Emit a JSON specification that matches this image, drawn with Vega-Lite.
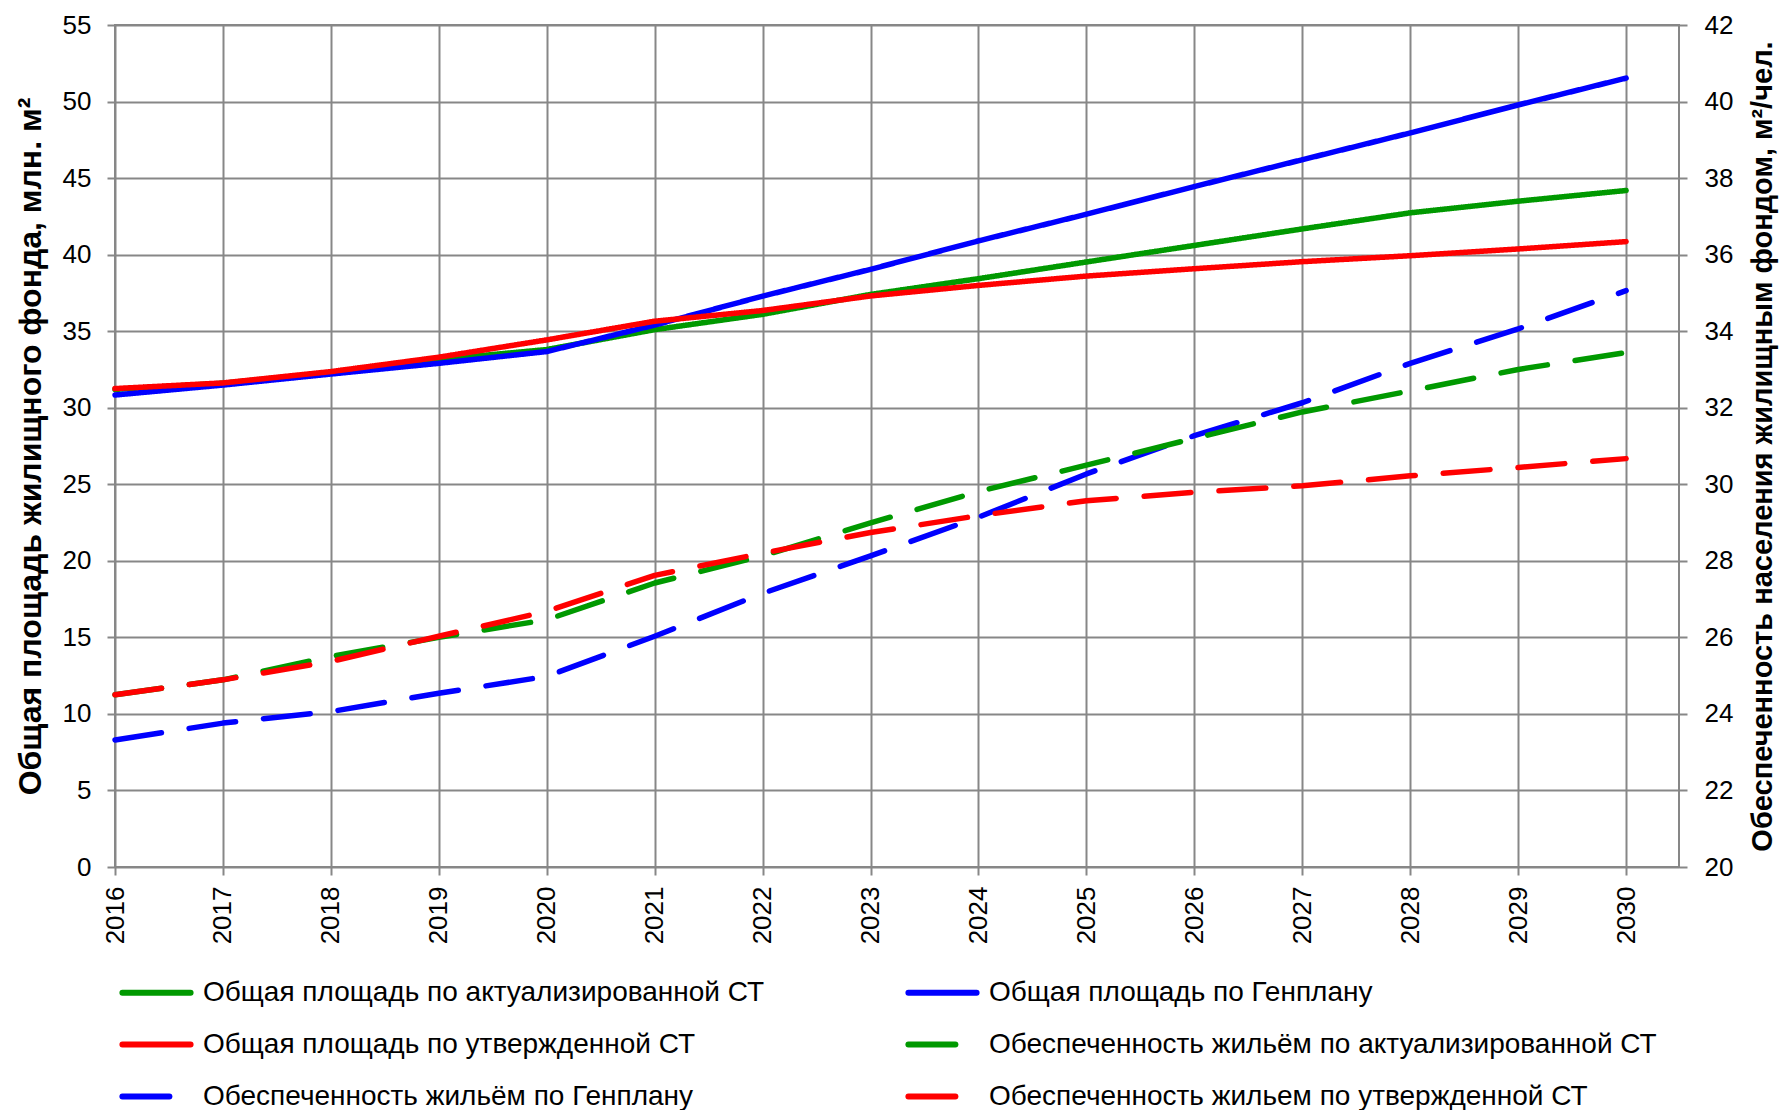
{
  "$schema": "https://vega.github.io/schema/vega-lite/v6.json",
  "width": 1564,
  "height": 842,
  "autosize": {"type": "none"},
  "padding": {"left": 115, "top": 25, "right": 105, "bottom": 243},
  "background": "white",
  "config": {
    "font": "Liberation Sans",
    "view": {"stroke": "#878787", "strokeWidth": 2},
    "axis": {
      "gridColor": "#878787", "gridWidth": 2, "gridOpacity": 1,
      "tickColor": "#878787", "tickWidth": 2, "tickSize": 8,
      "domain": false,
      "labelFont": "Liberation Sans", "labelFontSize": 26, "labelColor": "#000000",
      "titleFont": "Liberation Sans", "titleFontSize": 32, "titleFontWeight": "bold", "titleColor": "#000000"
    },
    "legend": {
      "orient": "none", "legendX": 4, "legendY": 930, "columns": 2, "padding": 0,
      "symbolType": "stroke", "symbolSize": 4650, "symbolStrokeWidth": 6,
      "labelFont": "Liberation Sans", "labelFontSize": 28, "labelColor": "#000000",
      "rowPadding": 0, "columnPadding": 131, "labelOffset": 9, "labelLimit": 1000
    }
  },
  "data": {"values": [
    {"year": 2016, "series": "Общая площадь по актуализированной СТ", "kind": "area", "value": 31.2},
    {"year": 2017, "series": "Общая площадь по актуализированной СТ", "kind": "area", "value": 31.6},
    {"year": 2018, "series": "Общая площадь по актуализированной СТ", "kind": "area", "value": 32.3},
    {"year": 2019, "series": "Общая площадь по актуализированной СТ", "kind": "area", "value": 33.15},
    {"year": 2020, "series": "Общая площадь по актуализированной СТ", "kind": "area", "value": 33.8},
    {"year": 2021, "series": "Общая площадь по актуализированной СТ", "kind": "area", "value": 35.1},
    {"year": 2022, "series": "Общая площадь по актуализированной СТ", "kind": "area", "value": 36.1},
    {"year": 2023, "series": "Общая площадь по актуализированной СТ", "kind": "area", "value": 37.4},
    {"year": 2024, "series": "Общая площадь по актуализированной СТ", "kind": "area", "value": 38.43},
    {"year": 2025, "series": "Общая площадь по актуализированной СТ", "kind": "area", "value": 39.52},
    {"year": 2026, "series": "Общая площадь по актуализированной СТ", "kind": "area", "value": 40.6},
    {"year": 2027, "series": "Общая площадь по актуализированной СТ", "kind": "area", "value": 41.68},
    {"year": 2028, "series": "Общая площадь по актуализированной СТ", "kind": "area", "value": 42.73},
    {"year": 2029, "series": "Общая площадь по актуализированной СТ", "kind": "area", "value": 43.49},
    {"year": 2030, "series": "Общая площадь по актуализированной СТ", "kind": "area", "value": 44.19},
    {"year": 2016, "series": "Общая площадь по Генплану", "kind": "area", "value": 30.83},
    {"year": 2017, "series": "Общая площадь по Генплану", "kind": "area", "value": 31.48},
    {"year": 2018, "series": "Общая площадь по Генплану", "kind": "area", "value": 32.2},
    {"year": 2019, "series": "Общая площадь по Генплану", "kind": "area", "value": 32.9},
    {"year": 2020, "series": "Общая площадь по Генплану", "kind": "area", "value": 33.67},
    {"year": 2021, "series": "Общая площадь по Генплану", "kind": "area", "value": 35.4},
    {"year": 2022, "series": "Общая площадь по Генплану", "kind": "area", "value": 37.29},
    {"year": 2023, "series": "Общая площадь по Генплану", "kind": "area", "value": 39.04},
    {"year": 2024, "series": "Общая площадь по Генплану", "kind": "area", "value": 40.9},
    {"year": 2025, "series": "Общая площадь по Генплану", "kind": "area", "value": 42.64},
    {"year": 2026, "series": "Общая площадь по Генплану", "kind": "area", "value": 44.45},
    {"year": 2027, "series": "Общая площадь по Генплану", "kind": "area", "value": 46.2},
    {"year": 2028, "series": "Общая площадь по Генплану", "kind": "area", "value": 47.95},
    {"year": 2029, "series": "Общая площадь по Генплану", "kind": "area", "value": 49.78},
    {"year": 2030, "series": "Общая площадь по Генплану", "kind": "area", "value": 51.53},
    {"year": 2016, "series": "Общая площадь по утвержденной СТ", "kind": "area", "value": 31.25},
    {"year": 2017, "series": "Общая площадь по утвержденной СТ", "kind": "area", "value": 31.62},
    {"year": 2018, "series": "Общая площадь по утвержденной СТ", "kind": "area", "value": 32.36},
    {"year": 2019, "series": "Общая площадь по утвержденной СТ", "kind": "area", "value": 33.3},
    {"year": 2020, "series": "Общая площадь по утвержденной СТ", "kind": "area", "value": 34.43},
    {"year": 2021, "series": "Общая площадь по утвержденной СТ", "kind": "area", "value": 35.65},
    {"year": 2022, "series": "Общая площадь по утвержденной СТ", "kind": "area", "value": 36.35},
    {"year": 2023, "series": "Общая площадь по утвержденной СТ", "kind": "area", "value": 37.3},
    {"year": 2024, "series": "Общая площадь по утвержденной СТ", "kind": "area", "value": 37.99},
    {"year": 2025, "series": "Общая площадь по утвержденной СТ", "kind": "area", "value": 38.6},
    {"year": 2026, "series": "Общая площадь по утвержденной СТ", "kind": "area", "value": 39.08},
    {"year": 2027, "series": "Общая площадь по утвержденной СТ", "kind": "area", "value": 39.54},
    {"year": 2028, "series": "Общая площадь по утвержденной СТ", "kind": "area", "value": 39.93},
    {"year": 2029, "series": "Общая площадь по утвержденной СТ", "kind": "area", "value": 40.37},
    {"year": 2030, "series": "Общая площадь по утвержденной СТ", "kind": "area", "value": 40.85},
    {"year": 2016, "series": "Обеспеченность жильём по Генплану", "kind": "supply", "value": 23.32},
    {"year": 2017, "series": "Обеспеченность жильём по Генплану", "kind": "supply", "value": 23.76},
    {"year": 2018, "series": "Обеспеченность жильём по Генплану", "kind": "supply", "value": 24.06},
    {"year": 2019, "series": "Обеспеченность жильём по Генплану", "kind": "supply", "value": 24.54},
    {"year": 2020, "series": "Обеспеченность жильём по Генплану", "kind": "supply", "value": 24.98},
    {"year": 2021, "series": "Обеспеченность жильём по Генплану", "kind": "supply", "value": 26.03},
    {"year": 2022, "series": "Обеспеченность жильём по Генплану", "kind": "supply", "value": 27.15},
    {"year": 2023, "series": "Обеспеченность жильём по Генплану", "kind": "supply", "value": 28.13},
    {"year": 2024, "series": "Обеспеченность жильём по Генплану", "kind": "supply", "value": 29.14},
    {"year": 2025, "series": "Обеспеченность жильём по Генплану", "kind": "supply", "value": 30.27},
    {"year": 2026, "series": "Обеспеченность жильём по Генплану", "kind": "supply", "value": 31.27},
    {"year": 2027, "series": "Обеспеченность жильём по Генплану", "kind": "supply", "value": 32.13},
    {"year": 2028, "series": "Обеспеченность жильём по Генплану", "kind": "supply", "value": 33.16},
    {"year": 2029, "series": "Обеспеченность жильём по Генплану", "kind": "supply", "value": 34.06},
    {"year": 2030, "series": "Обеспеченность жильём по Генплану", "kind": "supply", "value": 35.06},
    {"year": 2016, "series": "Обеспеченность жильём по актуализированной СТ", "kind": "supply", "value": 24.5},
    {"year": 2017, "series": "Обеспеченность жильём по актуализированной СТ", "kind": "supply", "value": 24.89},
    {"year": 2018, "series": "Обеспеченность жильём по актуализированной СТ", "kind": "supply", "value": 25.5},
    {"year": 2019, "series": "Обеспеченность жильём по актуализированной СТ", "kind": "supply", "value": 26.0},
    {"year": 2020, "series": "Обеспеченность жильём по актуализированной СТ", "kind": "supply", "value": 26.46},
    {"year": 2021, "series": "Обеспеченность жильём по актуализированной СТ", "kind": "supply", "value": 27.42},
    {"year": 2022, "series": "Обеспеченность жильём по актуализированной СТ", "kind": "supply", "value": 28.13},
    {"year": 2023, "series": "Обеспеченность жильём по актуализированной СТ", "kind": "supply", "value": 28.99},
    {"year": 2024, "series": "Обеспеченность жильём по актуализированной СТ", "kind": "supply", "value": 29.81},
    {"year": 2025, "series": "Обеспеченность жильём по актуализированной СТ", "kind": "supply", "value": 30.5},
    {"year": 2026, "series": "Обеспеченность жильём по актуализированной СТ", "kind": "supply", "value": 31.2},
    {"year": 2027, "series": "Обеспеченность жильём по актуализированной СТ", "kind": "supply", "value": 31.89},
    {"year": 2028, "series": "Обеспеченность жильём по актуализированной СТ", "kind": "supply", "value": 32.44},
    {"year": 2029, "series": "Обеспеченность жильём по актуализированной СТ", "kind": "supply", "value": 33.0},
    {"year": 2030, "series": "Обеспеченность жильём по актуализированной СТ", "kind": "supply", "value": 33.44},
    {"year": 2016, "series": "Обеспеченность жильем по утвержденной СТ", "kind": "supply", "value": 24.5},
    {"year": 2017, "series": "Обеспеченность жильем по утвержденной СТ", "kind": "supply", "value": 24.89},
    {"year": 2018, "series": "Обеспеченность жильем по утвержденной СТ", "kind": "supply", "value": 25.37},
    {"year": 2019, "series": "Обеспеченность жильем по утвержденной СТ", "kind": "supply", "value": 26.03},
    {"year": 2020, "series": "Обеспеченность жильем по утвержденной СТ", "kind": "supply", "value": 26.68},
    {"year": 2021, "series": "Обеспеченность жильем по утвержденной СТ", "kind": "supply", "value": 27.62},
    {"year": 2022, "series": "Обеспеченность жильем по утвержденной СТ", "kind": "supply", "value": 28.2},
    {"year": 2023, "series": "Обеспеченность жильем по утвержденной СТ", "kind": "supply", "value": 28.74},
    {"year": 2024, "series": "Обеспеченность жильем по утвержденной СТ", "kind": "supply", "value": 29.18},
    {"year": 2025, "series": "Обеспеченность жильем по утвержденной СТ", "kind": "supply", "value": 29.57},
    {"year": 2026, "series": "Обеспеченность жильем по утвержденной СТ", "kind": "supply", "value": 29.79},
    {"year": 2027, "series": "Обеспеченность жильем по утвержденной СТ", "kind": "supply", "value": 29.96},
    {"year": 2028, "series": "Обеспеченность жильем по утвержденной СТ", "kind": "supply", "value": 30.22},
    {"year": 2029, "series": "Обеспеченность жильем по утвержденной СТ", "kind": "supply", "value": 30.44},
    {"year": 2030, "series": "Обеспеченность жильем по утвержденной СТ", "kind": "supply", "value": 30.67}
  ]},
  "encoding": {
    "x": {
      "field": "year", "type": "quantitative",
      "scale": {"domain": [2016, 2030.49], "nice": false, "zero": false},
      "axis": {
        "values": [2016, 2017, 2018, 2019, 2020, 2021, 2022, 2023, 2024, 2025, 2026, 2027, 2028, 2029, 2030],
        "format": "d", "labelAngle": -90, "labelAlign": "right", "labelBaseline": "middle",
        "labelPadding": 11, "title": null, "grid": true, "labelFlush": false, "labelOverlap": false
      }
    },
    "color": {
      "field": "series", "type": "nominal",
      "scale": {
        "domain": ["Общая площадь по актуализированной СТ", "Общая площадь по утвержденной СТ", "Обеспеченность жильём по Генплану", "Общая площадь по Генплану", "Обеспеченность жильём по актуализированной СТ", "Обеспеченность жильем по утвержденной СТ"],
        "range": ["#009900", "#ff0000", "#0000ff", "#0000ff", "#009900", "#ff0000"]
      },
      "legend": {"title": null, "encode": {"symbols": {"update": {"strokeCap": {"value": "round"}}}}}
    },
    "strokeDash": {
      "field": "series", "type": "nominal",
      "scale": {
        "domain": ["Общая площадь по актуализированной СТ", "Общая площадь по утвержденной СТ", "Обеспеченность жильём по Генплану", "Общая площадь по Генплану", "Обеспеченность жильём по актуализированной СТ", "Обеспеченность жильем по утвержденной СТ"],
        "range": [[1, 0], [1, 0], [47, 28], [1, 0], [47, 28], [47, 28]]
      },
      "legend": {"title": null}
    }
  },
  "layer": [
    {
      "transform": [{"filter": "datum.kind == 'area'"}],
      "mark": {"type": "line", "strokeWidth": 5.5, "strokeCap": "round", "strokeJoin": "round"},
      "encoding": {
        "y": {
          "field": "value", "type": "quantitative",
          "scale": {"domain": [0, 55], "nice": false, "zero": false},
          "axis": {
            "orient": "left", "values": [0, 5, 10, 15, 20, 25, 30, 35, 40, 45, 50, 55],
            "grid": true, "labelPadding": 16,
            "title": "Общая площадь жилищного фонда, млн. м²",
            "titleAngle": 270, "titleX": -85, "titleY": 421, "titleAlign": "center", "titleBaseline": "middle"
          }
        }
      }
    },
    {
      "transform": [{"filter": "datum.kind == 'supply'"}],
      "mark": {"type": "line", "strokeWidth": 5.5, "strokeCap": "round", "strokeJoin": "round"},
      "encoding": {
        "y": {
          "field": "value", "type": "quantitative",
          "scale": {"domain": [20, 42], "nice": false, "zero": false},
          "axis": {
            "orient": "right", "values": [20, 22, 24, 26, 28, 30, 32, 34, 36, 38, 40, 42],
            "grid": false, "labelPadding": 17,
            "title": "Обеспеченность населения жилищным фондом, м²/чел.",
            "titleAngle": 270, "titleX": 83, "titleY": 421, "titleAlign": "center", "titleBaseline": "middle", "titleFontSize": 29
          }
        }
      }
    }
  ],
  "resolve": {"scale": {"y": "independent"}}
}
